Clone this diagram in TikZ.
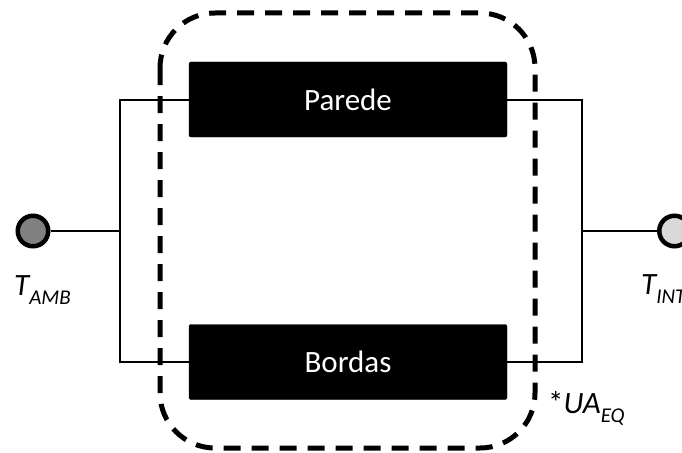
\documentclass[tikz,border=0pt]{standalone}
\usepackage{fontspec}
\setmainfont{Carlito}
\definecolor{cinzaEsc}{RGB}{128,128,128}
\definecolor{cinzaClaro}{RGB}{217,217,217}
\newcommand{\indice}[1]{\raisebox{-0.3em}{\fontsize{21}{21}\selectfont #1}}
\begin{document}
\begin{tikzpicture}[x=1pt,y=-1pt,
    bloco/.style={draw=black,fill=black,text=white,rounded corners=2pt,
      minimum width=318pt,minimum height=75pt,inner sep=0pt,
      font=\fontsize{31}{37}\selectfont},
    terminal/.style={circle,draw=black,line width=4.5pt,minimum size=30.5pt,inner sep=0pt},
    fio/.style={line width=2pt},
    rotulo/.style={anchor=base west,inner sep=0pt,font=\fontsize{31}{37}\selectfont\itshape}]

    \useasboundingbox (0,0) rectangle (682,452);

    % --- Blocos ---
    \node[bloco] (parede) at (348,99.5) {Parede};
    \node[bloco] (bordas) at (348,362) {Bordas};

    % --- Terminais ---
    \node[terminal,fill=cinzaEsc] (Tamb) at (33,231) {};
    \node[terminal,fill=cinzaClaro] (Tint) at (674.5,231) {};

    % --- Pontos de ligacao ---
    \coordinate (esqSup) at (120,99.5);
    \coordinate (esqInf) at (120,362);
    \coordinate (esqMeio) at (120,231);
    \coordinate (dirSup) at (582,99.5);
    \coordinate (dirInf) at (582,362);
    \coordinate (dirMeio) at (582,231);

    % --- Ligacoes ---
    \draw[fio] (parede.west) -- (esqSup) -- (esqInf) -- (bordas.west);
    \draw[fio] (parede.east) -- (dirSup) -- (dirInf) -- (bordas.east);
    \draw[fio] (Tamb) -- (esqMeio);
    \draw[fio] (dirMeio) -- (Tint);

    % --- Contorno tracejado (equivalente) ---
    \draw[line width=5pt,dash pattern=on 17pt off 11pt,rounded corners=55pt]
      (160,13) rectangle (535,448);

    % --- Rotulos ---
    \node[rotulo] (lblAmb) at (14,295) {T\indice{AMB}};
    \node[rotulo] (lblInt) at (641,294) {T\indice{INT}};
    \node[rotulo] (lblUA) at (548,413) {{\upshape *}UA\indice{EQ}};

\end{tikzpicture}
\end{document}
